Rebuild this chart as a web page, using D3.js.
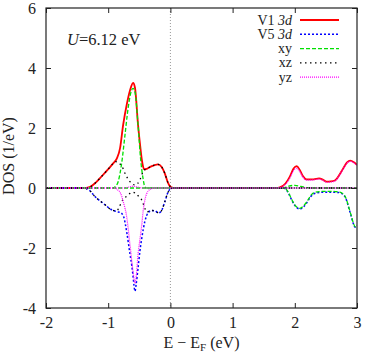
<!DOCTYPE html>
<html><head><meta charset="utf-8">
<script src="https://cdn.jsdelivr.net/npm/d3@7"></script>
<style>body{margin:0;background:#fff}svg{display:block}text{font-family:"Liberation Serif","Times New Roman",serif;fill:#222}</style>
</head><body>
<script>
// ---- data (E - E_F in eV, DOS in 1/eV) ----
const xTicks = [-2,-1,0,1,2,3];
const yTicks = [-4,-2,0,2,4,6];
const legendLabels = ["V1 3d","V5 3d","xy","xz","yz"];
const uLabel = "6.12 eV";

const v1 = [[-2,0],[-1.4,0],[-1.3,0.03],[-1.2,0.18],[-1.1,0.4],[-1.0,0.63],[-0.92,0.82],[-0.86,0.99],[-0.81,1.32],[-0.76,2.1],[-0.7,2.8],[-0.65,3.25],[-0.6,3.5],[-0.57,3.35],[-0.52,2.1],[-0.48,1.3],[-0.46,0.95],[-0.44,0.72],[-0.42,0.62],[-0.38,0.64],[-0.3,0.73],[-0.2,0.79],[-0.14,0.7],[-0.09,0.49],[-0.04,0.18],[0,0.04],[0.05,0],[1.7,0],[1.76,0.02],[1.85,0.15],[1.92,0.38],[1.98,0.65],[2.03,0.73],[2.08,0.6],[2.13,0.4],[2.19,0.29],[2.3,0.29],[2.39,0.32],[2.45,0.28],[2.51,0.21],[2.58,0.22],[2.65,0.26],[2.72,0.45],[2.78,0.66],[2.84,0.85],[2.89,0.91],[2.95,0.86],[3,0.77]];
const v5 = [[-2,0],[-1.4,0],[-1.35,-0.02],[-1.29,-0.1],[-1.21,-0.29],[-1.08,-0.51],[-0.94,-0.73],[-0.86,-0.79],[-0.8,-0.82],[-0.75,-0.97],[-0.7,-1.5],[-0.65,-2.2],[-0.62,-2.6],[-0.6,-2.95],[-0.585,-3.25],[-0.57,-3.44],[-0.55,-3.2],[-0.52,-2.67],[-0.49,-2.1],[-0.46,-1.67],[-0.41,-1.11],[-0.36,-0.83],[-0.3,-0.75],[-0.25,-0.76],[-0.19,-0.83],[-0.15,-0.78],[-0.09,-0.46],[-0.04,-0.15],[0,-0.03],[0.05,0],[1.8,0],[1.85,-0.03],[1.9,-0.18],[1.95,-0.4],[2.0,-0.58],[2.08,-0.7],[2.14,-0.63],[2.19,-0.5],[2.25,-0.3],[2.3,-0.2],[2.4,-0.15],[2.5,-0.14],[2.6,-0.14],[2.7,-0.15],[2.75,-0.18],[2.8,-0.27],[2.83,-0.4],[2.87,-0.68],[2.91,-0.96],[2.94,-1.18],[2.97,-1.31],[3,-1.25]];
const xyUp = [[-2,0],[-0.92,0],[-0.88,0.06],[-0.84,0.21],[-0.78,0.88],[-0.73,1.77],[-0.68,2.66],[-0.64,3.15],[-0.6,3.32],[-0.57,3.2],[-0.52,2.1],[-0.48,0.99],[-0.44,0.32],[-0.41,0.04],[-0.38,0],[1.8,0],[1.9,0.06],[2.0,0.09],[2.1,0.05],[2.2,0.01],[2.3,0],[3,0]];
const xyDn = [[-2,0],[1.8,0],[1.85,-0.02],[1.9,-0.16],[1.95,-0.38],[2.0,-0.56],[2.08,-0.68],[2.14,-0.6],[2.19,-0.47],[2.25,-0.27],[2.3,-0.16],[2.4,-0.12],[2.5,-0.11],[2.6,-0.11],[2.7,-0.13],[2.75,-0.16],[2.8,-0.25],[2.83,-0.38],[2.87,-0.66],[2.91,-0.94],[2.94,-1.16],[2.97,-1.29],[3,-1.23]];
const xzUp = [[-2,0],[-1.4,0],[-1.3,0.03],[-1.2,0.18],[-1.1,0.4],[-1.0,0.63],[-0.92,0.82],[-0.88,0.88],[-0.81,0.8],[-0.78,0.73],[-0.73,0.49],[-0.65,0.21],[-0.57,0.1],[-0.49,0.27],[-0.44,0.54],[-0.42,0.6],[-0.38,0.64],[-0.3,0.73],[-0.2,0.79],[-0.14,0.7],[-0.09,0.49],[-0.04,0.18],[0,0.04],[0.05,0],[3,0]];
const xzDn = [[-2,0],[-1.4,0],[-1.35,-0.02],[-1.29,-0.1],[-1.21,-0.29],[-1.08,-0.51],[-0.94,-0.73],[-0.86,-0.76],[-0.82,-0.62],[-0.76,-0.38],[-0.7,-0.27],[-0.65,-0.18],[-0.6,-0.14],[-0.55,-0.2],[-0.5,-0.3],[-0.46,-0.4],[-0.41,-0.68],[-0.38,-0.8],[-0.3,-0.75],[-0.25,-0.76],[-0.19,-0.83],[-0.15,-0.78],[-0.09,-0.46],[-0.04,-0.15],[0,-0.03],[0.05,0],[3,0]];
const yzUp = [[-2,0],[-0.75,0],[-0.65,0.04],[-0.6,0.06],[-0.55,0.04],[-0.45,0],[1.7,0],[1.76,0.01],[1.85,0.12],[1.92,0.33],[1.98,0.58],[2.03,0.66],[2.08,0.55],[2.13,0.36],[2.19,0.26],[2.3,0.27],[2.39,0.3],[2.45,0.26],[2.51,0.19],[2.58,0.2],[2.65,0.24],[2.72,0.43],[2.78,0.64],[2.84,0.83],[2.89,0.89],[2.95,0.84],[3,0.75]];
const yzDn = [[-2,0],[-0.9,0],[-0.85,-0.06],[-0.8,-0.18],[-0.76,-0.44],[-0.7,-1.0],[-0.65,-1.89],[-0.6,-2.78],[-0.57,-3.17],[-0.55,-2.95],[-0.52,-2.2],[-0.49,-1.72],[-0.46,-1.22],[-0.44,-0.8],[-0.41,-0.4],[-0.36,-0.11],[-0.3,-0.02],[-0.25,0],[3,0]];

// ---- layout ----
const W = 365, H = 355;
const m = {l:46, r:8, t:8, b:47};
const svg = d3.select("body").append("svg").attr("width",W).attr("height",H);
const x = d3.scaleLinear().domain([-2,3]).range([m.l, W-m.r]);
const y = d3.scaleLinear().domain([-4,6]).range([H-m.b, m.t]);

const styles = {
  red:  {stroke:"#ff0000", w:1.8, dash:null},
  blue: {stroke:"#0000ff", w:1.5, dash:"2,2"},
  green:{stroke:"#00e000", w:1.3, dash:"4,2"},
  black:{stroke:"#000000", w:1.3, dash:"1.5,3.5"},
  mag:  {stroke:"#ff00ff", w:1.2, dash:"1,1"}
};
const series = [
  {d:v1, s:"red"},{d:v5, s:"blue"},
  {d:xyUp, s:"green"},{d:xyDn, s:"green"},
  {d:xzUp, s:"black"},{d:xzDn, s:"black"},
  {d:yzUp, s:"mag"},{d:yzDn, s:"mag"}
];

svg.append("clipPath").attr("id","clip").append("rect")
  .attr("x",m.l).attr("y",m.t).attr("width",W-m.l-m.r).attr("height",H-m.t-m.b);

// E_F line
svg.append("line").attr("x1",x(0)).attr("x2",x(0)).attr("y1",y(6)).attr("y2",y(-4))
  .attr("stroke","#999").attr("stroke-width",1).attr("stroke-dasharray","1,2");

const line = d3.line().x(d=>x(d[0])).y(d=>y(d[1])).curve(d3.curveMonotoneX);
const g = svg.append("g").attr("clip-path","url(#clip)");
series.forEach(sr=>{
  const st = styles[sr.s];
  g.append("path").attr("d",line(sr.d)).attr("fill","none")
    .attr("stroke",st.stroke).attr("stroke-width",st.w)
    .attr("stroke-dasharray",st.dash).attr("stroke-linejoin","round");
});

// axes (inward ticks on all four sides)
const fmt = d=> d<0 ? "-"+Math.abs(d) : String(d);
const axB = svg.append("g").attr("transform",`translate(0,${y(-4)})`)
  .call(d3.axisBottom(x).tickValues(xTicks).tickSizeInner(-5).tickSizeOuter(0).tickPadding(9).tickFormat(fmt));
const axT = svg.append("g").attr("transform",`translate(0,${y(6)})`)
  .call(d3.axisTop(x).tickValues(xTicks).tickSizeInner(-5).tickSizeOuter(0).tickFormat(""));
const axL = svg.append("g").attr("transform",`translate(${x(-2)},0)`)
  .call(d3.axisLeft(y).tickValues(yTicks).tickSizeInner(-5).tickSizeOuter(0).tickPadding(10).tickFormat(fmt));
const axR = svg.append("g").attr("transform",`translate(${x(3)},0)`)
  .call(d3.axisRight(y).tickValues(yTicks).tickSizeInner(-5).tickSizeOuter(0).tickFormat(""));
[axB,axT,axL,axR].forEach(a=>{
  a.select(".domain").remove();
  a.selectAll(".tick line").attr("stroke","#222");
  a.selectAll("text").style("font-size","16px").attr("fill","#222");
});
// frame
svg.append("rect").attr("x",x(-2)).attr("y",y(6)).attr("width",x(3)-x(-2)).attr("height",y(-4)-y(6))
  .attr("fill","none").attr("stroke","#222").attr("stroke-width",1.2);

// axis titles
const xt = svg.append("text").attr("x",(x(-2)+x(3))/2).attr("y",348).attr("text-anchor","middle").style("font-size","16px");
xt.append("tspan").text("E \u2212 E");
xt.append("tspan").attr("dy",3).style("font-size","11px").text("F");
xt.append("tspan").attr("dy",-3).text(" (eV)");
svg.append("text").attr("transform",`translate(14,${(y(6)+y(-4))/2 - 2}) rotate(-90)`)
  .attr("text-anchor","middle").style("font-size","16px").text("DOS (1/eV)");

// U label
const ut = svg.append("text").attr("x",67).attr("y",45).style("font-size","16.5px");
ut.append("tspan").style("font-style","italic").text("U");
ut.append("tspan").text("=" + uLabel);

// legend
const legStyles = ["red","blue","green","black","mag"];
legendLabels.forEach((lab,i)=>{
  const yy = 20 + i*14.3;
  const t = svg.append("text").attr("x",292).attr("y",yy+4.5).attr("text-anchor","end").style("font-size","14px");
  const parts = lab.split(" ");
  if(parts.length>1){
    t.append("tspan").text(parts[0]+" ");
    t.append("tspan").style("font-style","italic").text(parts[1]);
  } else t.text(lab);
  const st = styles[legStyles[i]];
  svg.append("line").attr("x1",300).attr("x2",339).attr("y1",yy).attr("y2",yy)
    .attr("stroke",st.stroke).attr("stroke-width",st.w).attr("stroke-dasharray",st.dash);
});
</script>
</body></html>
